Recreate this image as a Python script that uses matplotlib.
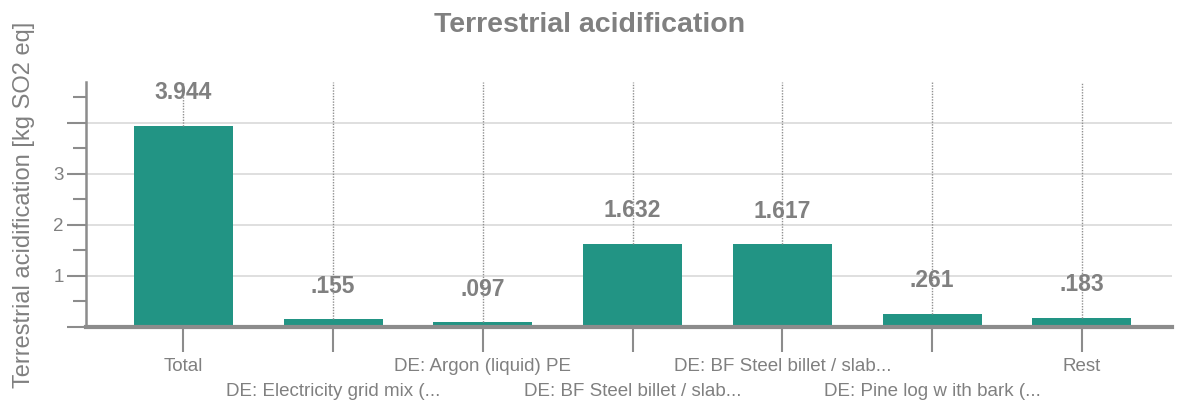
import matplotlib
matplotlib.use("Agg")
import matplotlib.pyplot as plt
from matplotlib.ticker import MultipleLocator

plt.rcParams["font.family"] = ["Liberation Sans", "DejaVu Sans"]

categories = [
    "Total",
    "DE: Electricity grid mix (...",
    "DE: Argon (liquid) PE",
    "DE: BF Steel billet / slab...",
    "DE: BF Steel billet / slab...",
    "DE: Pine log w ith bark (...",
    "Rest",
]
values = [3.944, 0.155, 0.097, 1.632, 1.617, 0.261, 0.183]

BAR_COLOR = "#229484"
TEXT_COLOR = "#808080"
AXIS_COLOR = "#8c8c8c"
GRID_COLOR = "#d9d9d9"


def fmt_value(v):
    s = f"{v:.3f}"
    return s[1:] if s.startswith("0") else s


fig = plt.figure(figsize=(11.8, 4.05), dpi=100)
ax = fig.add_axes([0.0729, 0.1926, 0.9201, 0.6049])

x = list(range(len(categories)))
ax.bar(x, values, width=0.66, color=BAR_COLOR, zorder=2)

ax.set_xlim(-0.65, 6.6)
ax.set_ylim(0, 4.8)

# horizontal grid at major ticks, labels only on 1..3
ax.yaxis.set_major_locator(MultipleLocator(1))
ax.yaxis.set_minor_locator(MultipleLocator(0.5))
ax.yaxis.set_major_formatter(
    plt.FuncFormatter(lambda val, pos: f"{int(val)}" if 1 <= val <= 3 else "")
)
ax.grid(axis="y", which="major", color=GRID_COLOR, linewidth=1.2, zorder=0)

# dotted guide lines from top down to bar tops, values above bars
for xi, v in zip(x, values):
    ax.plot([xi, xi], [v, 4.8], color="#909090", linestyle=(0, (1, 1)),
            linewidth=1.0, zorder=3)
    ax.annotate(fmt_value(v), (xi, v), xytext=(0, 33), textcoords="offset pixels",
                ha="center", va="center", fontsize=16.5, fontweight="bold",
                color=TEXT_COLOR, zorder=4)

# x tick labels staggered in two rows
ax.set_xticks(x)
ax.set_xticklabels([])
for xi, lab in zip(x, categories):
    ypos = -40 if xi % 2 == 0 else -65
    ax.annotate(lab, (xi, 0), xytext=(0, ypos), textcoords="offset pixels",
                ha="center", va="center", fontsize=13.5, color=TEXT_COLOR,
                annotation_clip=False)

ax.tick_params(axis="x", length=18, width=1.5, color=AXIS_COLOR, direction="out")
ax.tick_params(axis="y", which="major", length=14, width=1.5, color=AXIS_COLOR,
               labelsize=13.5, labelcolor=TEXT_COLOR, pad=2)
ax.tick_params(axis="y", which="minor", length=9.5, width=1.5, color=AXIS_COLOR)

for side in ["top", "right"]:
    ax.spines[side].set_visible(False)
ax.spines["left"].set_color(AXIS_COLOR)
ax.spines["left"].set_linewidth(1.8)
ax.spines["bottom"].set_color(AXIS_COLOR)
ax.spines["bottom"].set_linewidth(3)
ax.spines["bottom"].set_zorder(5)

ax.set_ylabel("Terrestrial acidification [kg SO2 eq]", fontsize=17, color=TEXT_COLOR)
ax.yaxis.set_label_coords(-0.047, 0.5)

fig.text(0.5, 0.938, "Terrestrial acidification", ha="center", va="center",
         fontsize=20.5, fontweight="bold", color=TEXT_COLOR)

fig.savefig("out.png", dpi=100)
plt.close(fig)
